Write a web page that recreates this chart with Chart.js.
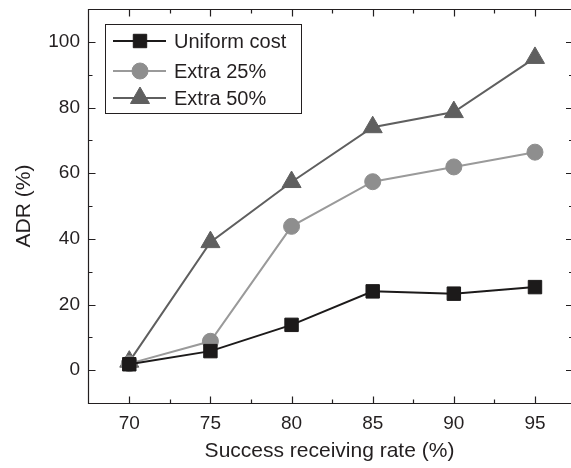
<!DOCTYPE html>
<html>
<head>
<meta charset="utf-8">
<script src="https://cdn.jsdelivr.net/npm/chart.js@4.4.0/dist/chart.umd.min.js"></script>
<style>
  html, body { margin: 0; padding: 0; background: #fff; overflow: hidden; }
  #wrap { width: 571px; height: 468px; }
</style>
</head>
<body>
<div id="wrap"><canvas id="c" width="571" height="468"></canvas></div>
<script>
// data
const rates = [70, 75, 80, 85, 90, 95];
const uniformCost = [1.8, 5.8, 13.8, 24.0, 23.3, 25.3];
const extra25 = [2.0, 8.8, 43.8, 57.4, 61.9, 66.4];
const extra50 = [2.6, 39.0, 57.3, 74.0, 78.6, 95.1];
const xTicks = [70, 75, 80, 85, 90, 95];
const yTicks = [0, 20, 40, 60, 80, 100];

const FONT = "'Liberation Sans', Arial, Helvetica, sans-serif";
const INK = "#231f20";

function pts(vals) {
  return rates.map((r, i) => ({ x: r, y: vals[i] }));
}

const series = [
  { label: "Uniform cost", data: uniformCost, color: "#1c1a1a", fill: "#1c1a1a", style: "rect", r: 9.5 },
  { label: "Extra 25%", data: extra25, color: "#9a9a9a", fill: "#8e8e8e", style: "circle", r: 8 },
  { label: "Extra 50%", data: extra50, color: "#5f5f5f", fill: "#5f5f5f", style: "triangle", r: 11 }
];

// frame, inward ticks and the boxed legend
const framePlugin = {
  id: "frame",
  afterDraw(chart) {
    const ctx = chart.ctx;
    const a = chart.chartArea;
    const xs = chart.scales.x, ys = chart.scales.y;
    const L = Math.round(a.left) + 0.5, T = Math.round(a.top) + 0.5;
    const B = Math.round(a.bottom) + 0.5, R = a.right + 2;
    ctx.save();
    ctx.strokeStyle = INK;
    ctx.lineWidth = 1.2;
    // the right edge of the box lies just past the picture
    ctx.beginPath();
    ctx.moveTo(R, T); ctx.lineTo(L, T); ctx.lineTo(L, B); ctx.lineTo(R, B);
    ctx.stroke();

    ctx.beginPath();
    const xMinor = [72.5, 77.5, 82.5, 87.5, 92.5];
    xTicks.forEach(v => {
      const px = Math.round(xs.getPixelForValue(v)) + 0.5;
      ctx.moveTo(px, B); ctx.lineTo(px, B - 7);
      ctx.moveTo(px, T); ctx.lineTo(px, T + 7);
    });
    xMinor.forEach(v => {
      const px = Math.round(xs.getPixelForValue(v)) + 0.5;
      ctx.moveTo(px, B); ctx.lineTo(px, B - 4);
      ctx.moveTo(px, T); ctx.lineTo(px, T + 4);
    });
    const yMinor = [10, 30, 50, 70, 90];
    yTicks.forEach(v => {
      const py = Math.round(ys.getPixelForValue(v)) + 0.5;
      ctx.moveTo(L, py); ctx.lineTo(L + 7, py);
      ctx.moveTo(R, py); ctx.lineTo(R - 7, py);
    });
    yMinor.forEach(v => {
      const py = Math.round(ys.getPixelForValue(v)) + 0.5;
      ctx.moveTo(L, py); ctx.lineTo(L + 4, py);
      ctx.moveTo(R, py); ctx.lineTo(R - 4, py);
    });
    ctx.stroke();

    // legend
    const bx = 105.5, by = 24.5, bw = 196, bh = 89;
    ctx.lineWidth = 1;
    ctx.strokeRect(bx, by, bw, bh);
    const rows = [41, 71, 98];
    ctx.font = "20px " + FONT;
    ctx.textBaseline = "middle";
    series.forEach((s, i) => {
      const y = rows[i];
      ctx.strokeStyle = s.color;
      ctx.lineWidth = 2;
      ctx.beginPath();
      ctx.moveTo(113, y); ctx.lineTo(166, y);
      ctx.stroke();
      ctx.fillStyle = s.fill;
      ctx.strokeStyle = s.fill;
      ctx.lineWidth = 1;
      Chart.helpers.drawPoint(ctx, { pointStyle: s.style, radius: s.r, borderWidth: 1, rotation: 0 }, 140, y);
      ctx.fillStyle = INK;
      ctx.fillText(s.label, 174, y + 1);
    });
    ctx.restore();
  }
};

new Chart(document.getElementById("c"), {
  type: "line",
  data: {
    datasets: series.map(s => ({
      label: s.label,
      data: pts(s.data),
      borderColor: s.color,
      backgroundColor: s.fill,
      borderWidth: 2,
      pointStyle: s.style,
      pointRadius: s.r,
      pointHoverRadius: s.r,
      pointBackgroundColor: s.fill,
      pointBorderColor: s.fill,
      pointBorderWidth: 1,
      tension: 0,
      clip: false
    }))
  },
  options: {
    responsive: false,
    animation: false,
    layout: { autoPadding: false, padding: { top: 9, right: 0, left: 0, bottom: 0 } },
    plugins: { legend: { display: false }, tooltip: { enabled: false } },
    scales: {
      x: {
        type: "linear",
        min: 67.456,
        max: 97.22,
        grid: { display: false, drawTicks: false },
        border: { display: false },
        afterBuildTicks: sc => { sc.ticks = xTicks.map(v => ({ value: v })); },
        afterFit: sc => {
          sc.height = 65;
          sc.paddingLeft = 0; sc.paddingRight = 0;
        },
        ticks: { color: INK, font: { family: FONT, size: 19 }, padding: 9, maxRotation: 0 },
        title: {
          display: true,
          text: "Success receiving rate (%)",
          color: INK,
          font: { family: FONT, size: 21 },
          padding: { top: 0, bottom: 4 }
        }
      },
      y: {
        min: -10,
        max: 110,
        grid: { display: false, drawTicks: false },
        border: { display: false },
        afterBuildTicks: sc => { sc.ticks = yTicks.map(v => ({ value: v })); },
        afterFit: sc => {
          sc.width = 88;
          sc.paddingTop = 0; sc.paddingBottom = 0;
        },
        ticks: { color: INK, font: { family: FONT, size: 19 }, padding: 8 },
        title: {
          display: true,
          text: "ADR (%)",
          color: INK,
          font: { family: FONT, size: 21 },
          padding: { top: 12, bottom: 0 }
        }
      }
    }
  },
  plugins: [framePlugin]
});
</script>
</body>
</html>
